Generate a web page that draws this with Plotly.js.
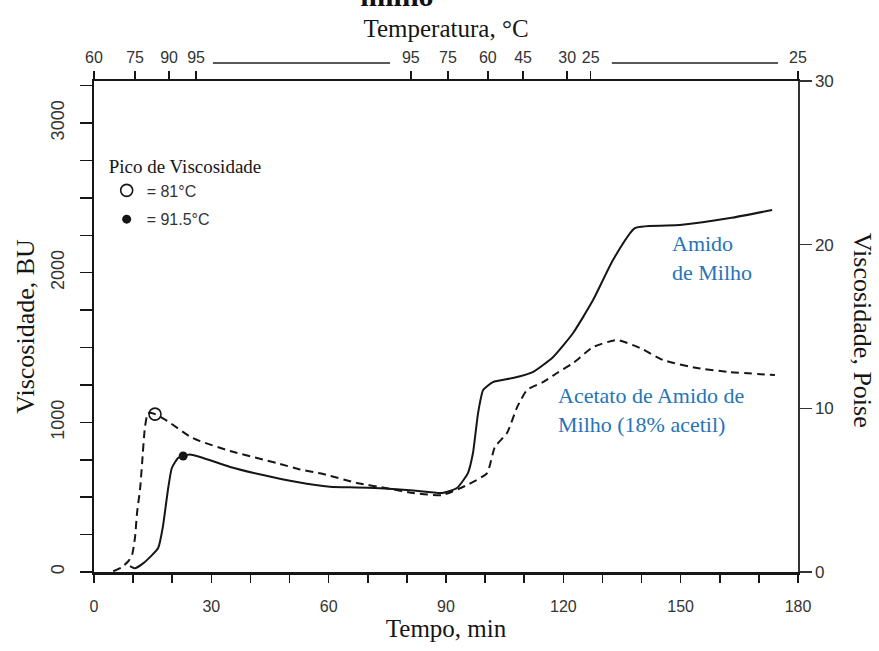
<!DOCTYPE html>
<html>
<head>
<meta charset="utf-8">
<script src="https://cdn.plot.ly/plotly-3.0.1.min.js"></script>
<style>html,body{margin:0;padding:0;background:#fff;}#chart{width:879px;height:651px;}</style>
</head>
<body>
<div id="chart"></div>
<script>
// Tempo (min) e viscosidade (BU) — Amido de Milho (linha contínua)
const milhoTempo = [9.2, 10.5, 13.0, 16.4, 17.6, 18.9, 19.9, 21.5, 22.8, 24.5, 27.9, 34.8, 43.2, 51.9, 60.3, 67.0, 73.1, 81.6, 89.0, 92.8, 95.6, 96.9, 98.2, 99.5, 102.0, 107.1, 112.2, 117.4, 122.5, 127.6, 132.7, 138.3, 149.8, 162.6, 173.4];
const milhoBU    = [40, 25, 67, 160, 301, 548, 695, 762, 775, 785, 762, 702, 648, 601, 570, 565, 560, 545, 528, 561, 661, 795, 1062, 1216, 1269, 1296, 1336, 1437, 1597, 1817, 2085, 2298, 2318, 2365, 2419];

// Acetato de Amido de Milho (18% acetil) (linha tracejada)
const acetatoTempo = [4.9, 7.0, 8.7, 9.7, 10.5, 11.0, 11.8, 12.3, 13.0, 13.8, 15.6, 18.7, 24.5, 27.1, 34.8, 46.8, 52.7, 58.6, 67.2, 74.9, 81.6, 89.0, 95.4, 100.5, 102.5, 105.6, 108.2, 110.7, 114.8, 118.4, 122.5, 127.6, 133.7, 139.6, 145.5, 154.2, 162.6, 174.1];
const acetatoBU    = [5, 30, 70, 110, 234, 394, 560, 728, 960, 1062, 1055, 1010, 905, 875, 808, 728, 685, 655, 595, 560, 528, 514, 581, 661, 835, 929, 1102, 1216, 1269, 1330, 1396, 1503, 1550, 1497, 1416, 1363, 1336, 1316];

// Picos de viscosidade
const picoAcetato = {t: [15.6], bu: [1055], nome: '= 81°C'};
const picoMilho   = {t: [22.8], bu: [775],  nome: '= 91.5°C'};

// Eixo superior: temperatura
const tempTempos  = [0, 10.5, 19.2, 26.1, 81, 90.5, 100.7, 109.7, 121, 127, 180];
const tempRotulos = ['60', '75', '90', '95', '95', '75', '60', '45', '30', '25', '25'];

const serif = '"Liberation Serif", "Times New Roman", serif';
const sans = '"Liberation Sans Narrow", "Liberation Sans", Arial, sans-serif';
const ink = '#161616';
const blue = '#2674b8';

const traces = [
  {x: milhoTempo, y: milhoBU, mode: 'lines', line: {color: ink, width: 2, shape: 'spline', smoothing: 0.5}, showlegend: false, hoverinfo: 'skip'},
  {x: acetatoTempo, y: acetatoBU, mode: 'lines', line: {color: ink, width: 2, dash: '8px,5px', shape: 'spline', smoothing: 0.5}, showlegend: false, hoverinfo: 'skip'},
  {x: picoAcetato.t, y: picoAcetato.bu, mode: 'markers', name: picoAcetato.nome, legendgroup: 'a',
   marker: {symbol: 'circle-open', size: 12, color: ink, line: {width: 1.6, color: ink}}},
  {x: picoMilho.t, y: picoMilho.bu, mode: 'markers', name: picoMilho.nome, legendgroup: 'b',
   marker: {symbol: 'circle', size: 9, color: ink}},
  {x: [], y: [], xaxis: 'x2', yaxis: 'y2', mode: 'lines', showlegend: false, hoverinfo: 'skip'}
];

const layout = {
  width: 879, height: 651,
  paper_bgcolor: '#fff', plot_bgcolor: '#fff',
  margin: {l: 94, r: 81, t: 81, b: 79},
  title: {text: '<b>milho</b>', font: {family: serif, size: 30, color: '#111'},
          x: 0.4516, xanchor: 'center', xref: 'container', y: 0.9915, yanchor: 'bottom', yref: 'container'},
  xaxis: {
    range: [0, 180], showgrid: false, zeroline: false,
    showline: true, linewidth: 2.5, linecolor: ink,
    ticks: 'outside', ticklen: 8, tickwidth: 1.5, tickcolor: ink,
    tick0: 0, dtick: 30,
    minor: {dtick: 10, ticks: 'outside', ticklen: 8, tickwidth: 1.5, tickcolor: ink, showgrid: false},
    tickfont: {family: sans, size: 16, color: '#333'},
    ticklabelstandoff: 10,
    title: {text: 'Tempo, min', font: {family: serif, size: 25, color: ink}, standoff: 6}
  },
  xaxis2: {
    overlaying: 'x', side: 'top', anchor: 'y2', range: [0, 180],
    showgrid: false, zeroline: false,
    showline: true, linewidth: 2, linecolor: ink,
    ticks: 'outside', ticklen: 8, tickwidth: 1.5, tickcolor: ink,
    tickmode: 'array', tickvals: tempTempos, ticktext: tempRotulos,
    tickfont: {family: sans, size: 16, color: '#333'},
    ticklabelstandoff: 2,
    title: {text: 'Temperatura, °C', font: {family: serif, size: 25, color: ink}, standoff: 4}
  },
  yaxis: {
    range: [0, 3281], showgrid: false, zeroline: false,
    showline: true, linewidth: 2.5, linecolor: ink,
    ticks: 'outside', ticklen: 12, tickwidth: 1.5, tickcolor: ink,
    tick0: 0, dtick: 1000,
    minor: {dtick: 250, ticks: 'outside', ticklen: 12, tickwidth: 1.5, tickcolor: ink, showgrid: false},
    tickangle: -90,
    tickfont: {family: sans, size: 18, color: '#333'},
    ticklabelstandoff: 8,
    title: {text: 'Viscosidade, BU', font: {family: serif, size: 26, color: ink}, standoff: 6}
  },
  yaxis2: {
    overlaying: 'y', side: 'right', anchor: 'x2', range: [0, 30],
    showgrid: false, zeroline: false,
    showline: true, linewidth: 1.5, linecolor: '#333',
    ticks: 'outside', ticklen: 12, tickwidth: 1.5, tickcolor: '#333',
    tick0: 0, dtick: 10,
    tickfont: {family: sans, size: 17, color: '#333'}
  },
  legend: {
    x: 0.018, y: 0.862, xanchor: 'left', yanchor: 'top',
    bgcolor: 'rgba(0,0,0,0)', borderwidth: 0,
    title: {text: 'Pico de Viscosidade', font: {family: serif, size: 19, color: ink}},
    font: {family: sans, size: 16, color: '#333'},
    tracegroupgap: 5, itemwidth: 30
  },
  shapes: [
    {type: 'line', xref: 'x', yref: 'paper', x0: 30.4, x1: 75.7, y0: 1.0367, y1: 1.0367, line: {color: '#222', width: 1.5}},
    {type: 'line', xref: 'x', yref: 'paper', x0: 132.4, x1: 174.9, y0: 1.0367, y1: 1.0367, line: {color: '#222', width: 1.5}}
  ],
  annotations: [
    {text: 'Viscosidade, Poise', xref: 'paper', yref: 'paper', x: 1.091, y: 0.493, textangle: 90,
     showarrow: false, font: {family: serif, size: 26, color: ink}, xanchor: 'center', yanchor: 'middle'},
    {text: 'Amido<br>de Milho', xref: 'x', yref: 'y', x: 147.3, y: 2098, showarrow: false, align: 'left',
     xanchor: 'left', yanchor: 'middle', font: {family: serif, size: 22, color: blue}},
    {text: 'Acetato de Amido de<br>Milho (18% acetil)', xref: 'x', yref: 'y', x: 118.0, y: 1080, showarrow: false, align: 'left',
     xanchor: 'left', yanchor: 'middle', font: {family: serif, size: 22, color: blue}}
  ]
};

Plotly.newPlot('chart', traces, layout, {displayModeBar: false, staticPlot: true});
</script>
</body>
</html>
